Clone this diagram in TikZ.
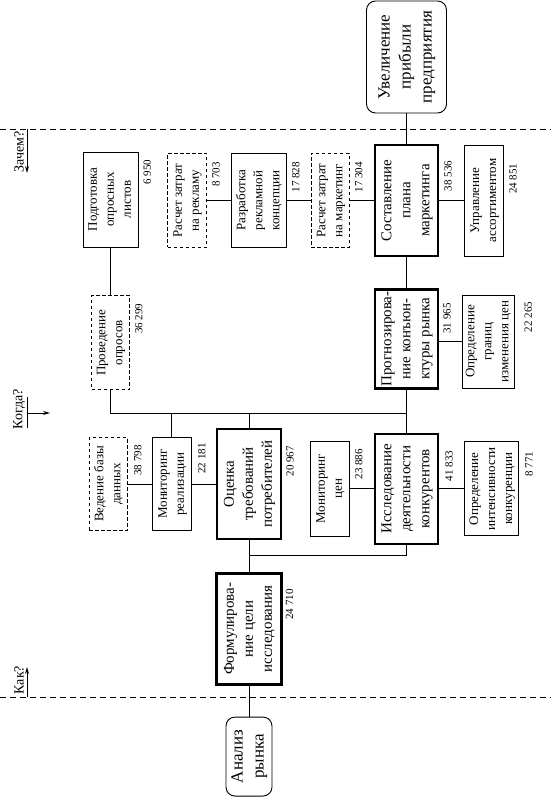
\documentclass[tikz,border=0pt]{standalone}
\usepackage{graphicx}
\usepackage{fontspec}
\setmainfont{Liberation Serif}
\usetikzlibrary{positioning}
\usetikzlibrary{arrows.meta}
\tikzset{>=Stealth}
\tikzstyle{box} = [draw, 
line width=0.9pt, 
inner sep=0pt, 
minimum width=39pt, 
minimum height=94pt, 
font=\fontsize{13}{17}\selectfont]
\tikzstyle{dbox} = [box, 
dash pattern=on 3.5pt off 2.5pt]
\tikzstyle{mainbox} = [draw, 
line width=2.4pt, 
inner sep=0pt, 
minimum width=63pt, 
minimum height=110pt, 
font=\fontsize{15}{19}\selectfont]
\tikzstyle{endbox} = [draw, 
line width=0.9pt, 
rounded corners=9pt, 
inner sep=0pt, 
font=\fontsize{17}{21}\selectfont]
\tikzstyle{line} = [draw, 
line width=0.9pt]
\newcommand{\vtext}[1]{\rotatebox{90}{\begin{tabular}{@{}c@{}}#1\end{tabular}}}

\begin{document}
\begin{tikzpicture}[x=1pt, y=-1pt, node distance=24pt,
	num/.style={inner sep=0pt, font=\fontsize{11}{13}\selectfont},
	ask/.style={inner sep=0pt, font=\fontsize{14}{16}\selectfont},
	axis/.style={draw, line width=0.9pt, dash pattern=on 6pt off 4pt}]
	\useasboundingbox (0,0) rectangle (551,799);
	%% Main chain
	\node [endbox, minimum width=80pt, minimum height=112pt] (profit) at (406.5,57) {\vtext{Увеличение\\прибыли\\предприятия}};
	\node [mainbox, minimum height=111pt] (plan) at (406.5,200.5) {\vtext{Составление\\плана\\маркетинга}};
	\node [mainbox, minimum height=99pt, below=31pt of plan] (forecast) {\vtext{Прогнозирова-\\ние конъюн-\\ктуры рынка}};
	\node [mainbox, below=43pt of forecast] (rivals) {\vtext{Исследование\\деятельности\\конкурентов}};
	\node [mainbox, minimum width=64pt] (needs) at (249,484) {\vtext{Оценка\\требований\\потребителей}};
	\node [mainbox, minimum width=65pt, minimum height=111pt, below=32pt of needs] (aim) {\vtext{Формулирова-\\ние цели\\исследования}};
	\node [endbox, minimum width=46pt, minimum height=79pt, below=31pt of aim] (market) {\vtext{Анализ\\рынка}};
	%% Side tasks
	\node [dbox, minimum width=38pt, left=of plan] (mktcost) {\vtext{Расчет затрат\\на маркетинг}};
	\node [box, minimum width=55pt, left=of mktcost] (concept) {\vtext{Разработка\\рекламной\\концепции}};
	\node [dbox, left=of concept] (adcost) {\vtext{Расчет затрат\\на рекламу}};
	\node [box, minimum height=111pt, right=25pt of plan] (range) {\vtext{Управление\\ассортиментом}};
	\node [box, minimum width=55pt, minimum height=95pt] (forms) at (110.5,199.5) {\vtext{Подготовка\\опросных\\листов}};
	\node [dbox, minimum width=38pt, below=48pt of forms] (poll) {\vtext{Проведение\\опросов}};
	\node [box, minimum width=52pt, minimum height=93pt] (bounds) at (488,341.5) {\vtext{Определение\\границ\\изменения цен}};
	\node [box, minimum width=54pt, right=25pt of rivals] (intens) {\vtext{Определение\\интенсивности\\конкуренции}};
	\node [box, minimum height=95pt, left=of rivals] (prices) {\vtext{Мониторинг\\цен}};
	\node [box, minimum height=93pt, left=of needs] (sales) {\vtext{Мониторинг\\реализации}};
	\node [dbox, minimum width=38pt, minimum height=93pt, left=of sales] (base) {\vtext{Ведение базы\\данных}};
	%% Costs
	\node [num, below right=8pt and 5pt of forms.north east] (nforms) {\rotatebox{90}{6 950}};
	\node [num, below right=8pt and 5pt of poll.north east] (npoll) {\rotatebox{90}{36 299}};
	\node [num, below right=9pt and 5pt of adcost.north east] (nadcost) {\rotatebox{90}{8 703}};
	\node [num, below right=9pt and 5pt of concept.north east] (nconcept) {\rotatebox{90}{17 828}};
	\node [num, below right=9pt and 5pt of mktcost.north east] (nmktcost) {\rotatebox{90}{17 304}};
	\node [num, below right=17pt and 5pt of plan.north east] (nplan) {\rotatebox{90}{38 536}};
	\node [num, below right=19pt and 5pt of range.north east] (nrange) {\rotatebox{90}{24 851}};
	\node [num, below right=15pt and 4pt of forecast.north east] (nforecast) {\rotatebox{90}{31 965}};
	\node [num, below right=7pt and 10pt of bounds.north east] (nbounds) {\rotatebox{90}{22 265}};
	\node [num, below right=8pt and 6pt of base.north east] (nbase) {\rotatebox{90}{38 798}};
	\node [num, below right=6pt and 6pt of sales.north east] (nsales) {\rotatebox{90}{22 181}};
	\node [num, below right=18pt and 4pt of needs.north east] (nneeds) {\rotatebox{90}{20 967}};
	\node [num, below right=8pt and 5pt of prices.north east] (nprices) {\rotatebox{90}{23 886}};
	\node [num, below right=18pt and 6pt of rivals.north east] (nrivals) {\rotatebox{90}{41 833}};
	\node [num, below right=10pt and 6pt of intens.north east] (nintens) {\rotatebox{90}{8 771}};
	\node [num, below right=17pt and 3pt of aim.north east] (naim) {\rotatebox{90}{24 710}};
	%% Links
	\coordinate (when) at (406.5,413);
	\coordinate (how) at (406.5,555);
	\path [line] (profit) -- (plan);
	\path [line] (plan) -- (forecast);
	\path [line] (forecast) -- (rivals);
	\path [line] (plan) -- (mktcost);
	\path [line] (mktcost) -- (concept);
	\path [line] (concept) -- (adcost);
	\path [line] (plan) -- (range);
	\path [line] (forms) -- (poll);
	\path [line] (bounds.west) -- (bounds.west -| forecast.east);
	\path [line] (rivals) -- (intens);
	\path [line] (rivals) -- (prices);
	\path [line] (needs) -- (sales);
	\path [line] (sales) -- (base);
	\path [line] (needs) -- (aim);
	\path [line] (aim) -- (market);
	\path [line] (poll) |- (when);
	\path [line] (sales) |- (when);
	\path [line] (needs) |- (when);
	\path [line] (rivals) -- (how) -| (aim);
	%% Levels
	\path [axis] (0,129) -- (551,129);
	\path [axis] (0,697) -- (551,697);
	\node [ask] (why) at (19,152) {\rotatebox{90}{Зачем?}};
	\node [ask] (whenlabel) at (19,409) {\rotatebox{90}{Когда?}};
	\node [ask] (howlabel) at (19,680) {\rotatebox{90}{Как?}};
	\coordinate (why0) at (27,129);
	\coordinate (why1) at (27,173);
	\coordinate (t0) at (27,397);
	\coordinate (t1) at (27,428);
	\coordinate (t2) at (27,413);
	\coordinate (t3) at (50,413);
	\coordinate (how0) at (27,697);
	\coordinate (how1) at (27,667);
	\path [line, -{Stealth[length=7pt, width=4pt]}] (why0) -- (why1);
	\path [line] (t0) -- (t1);
	\path [line, -{Stealth[length=7pt, width=4pt]}] (t2) -- (t3);
	\path [line, -{Stealth[length=7pt, width=4pt]}] (how0) -- (how1);
\end{tikzpicture}
\end{document}
